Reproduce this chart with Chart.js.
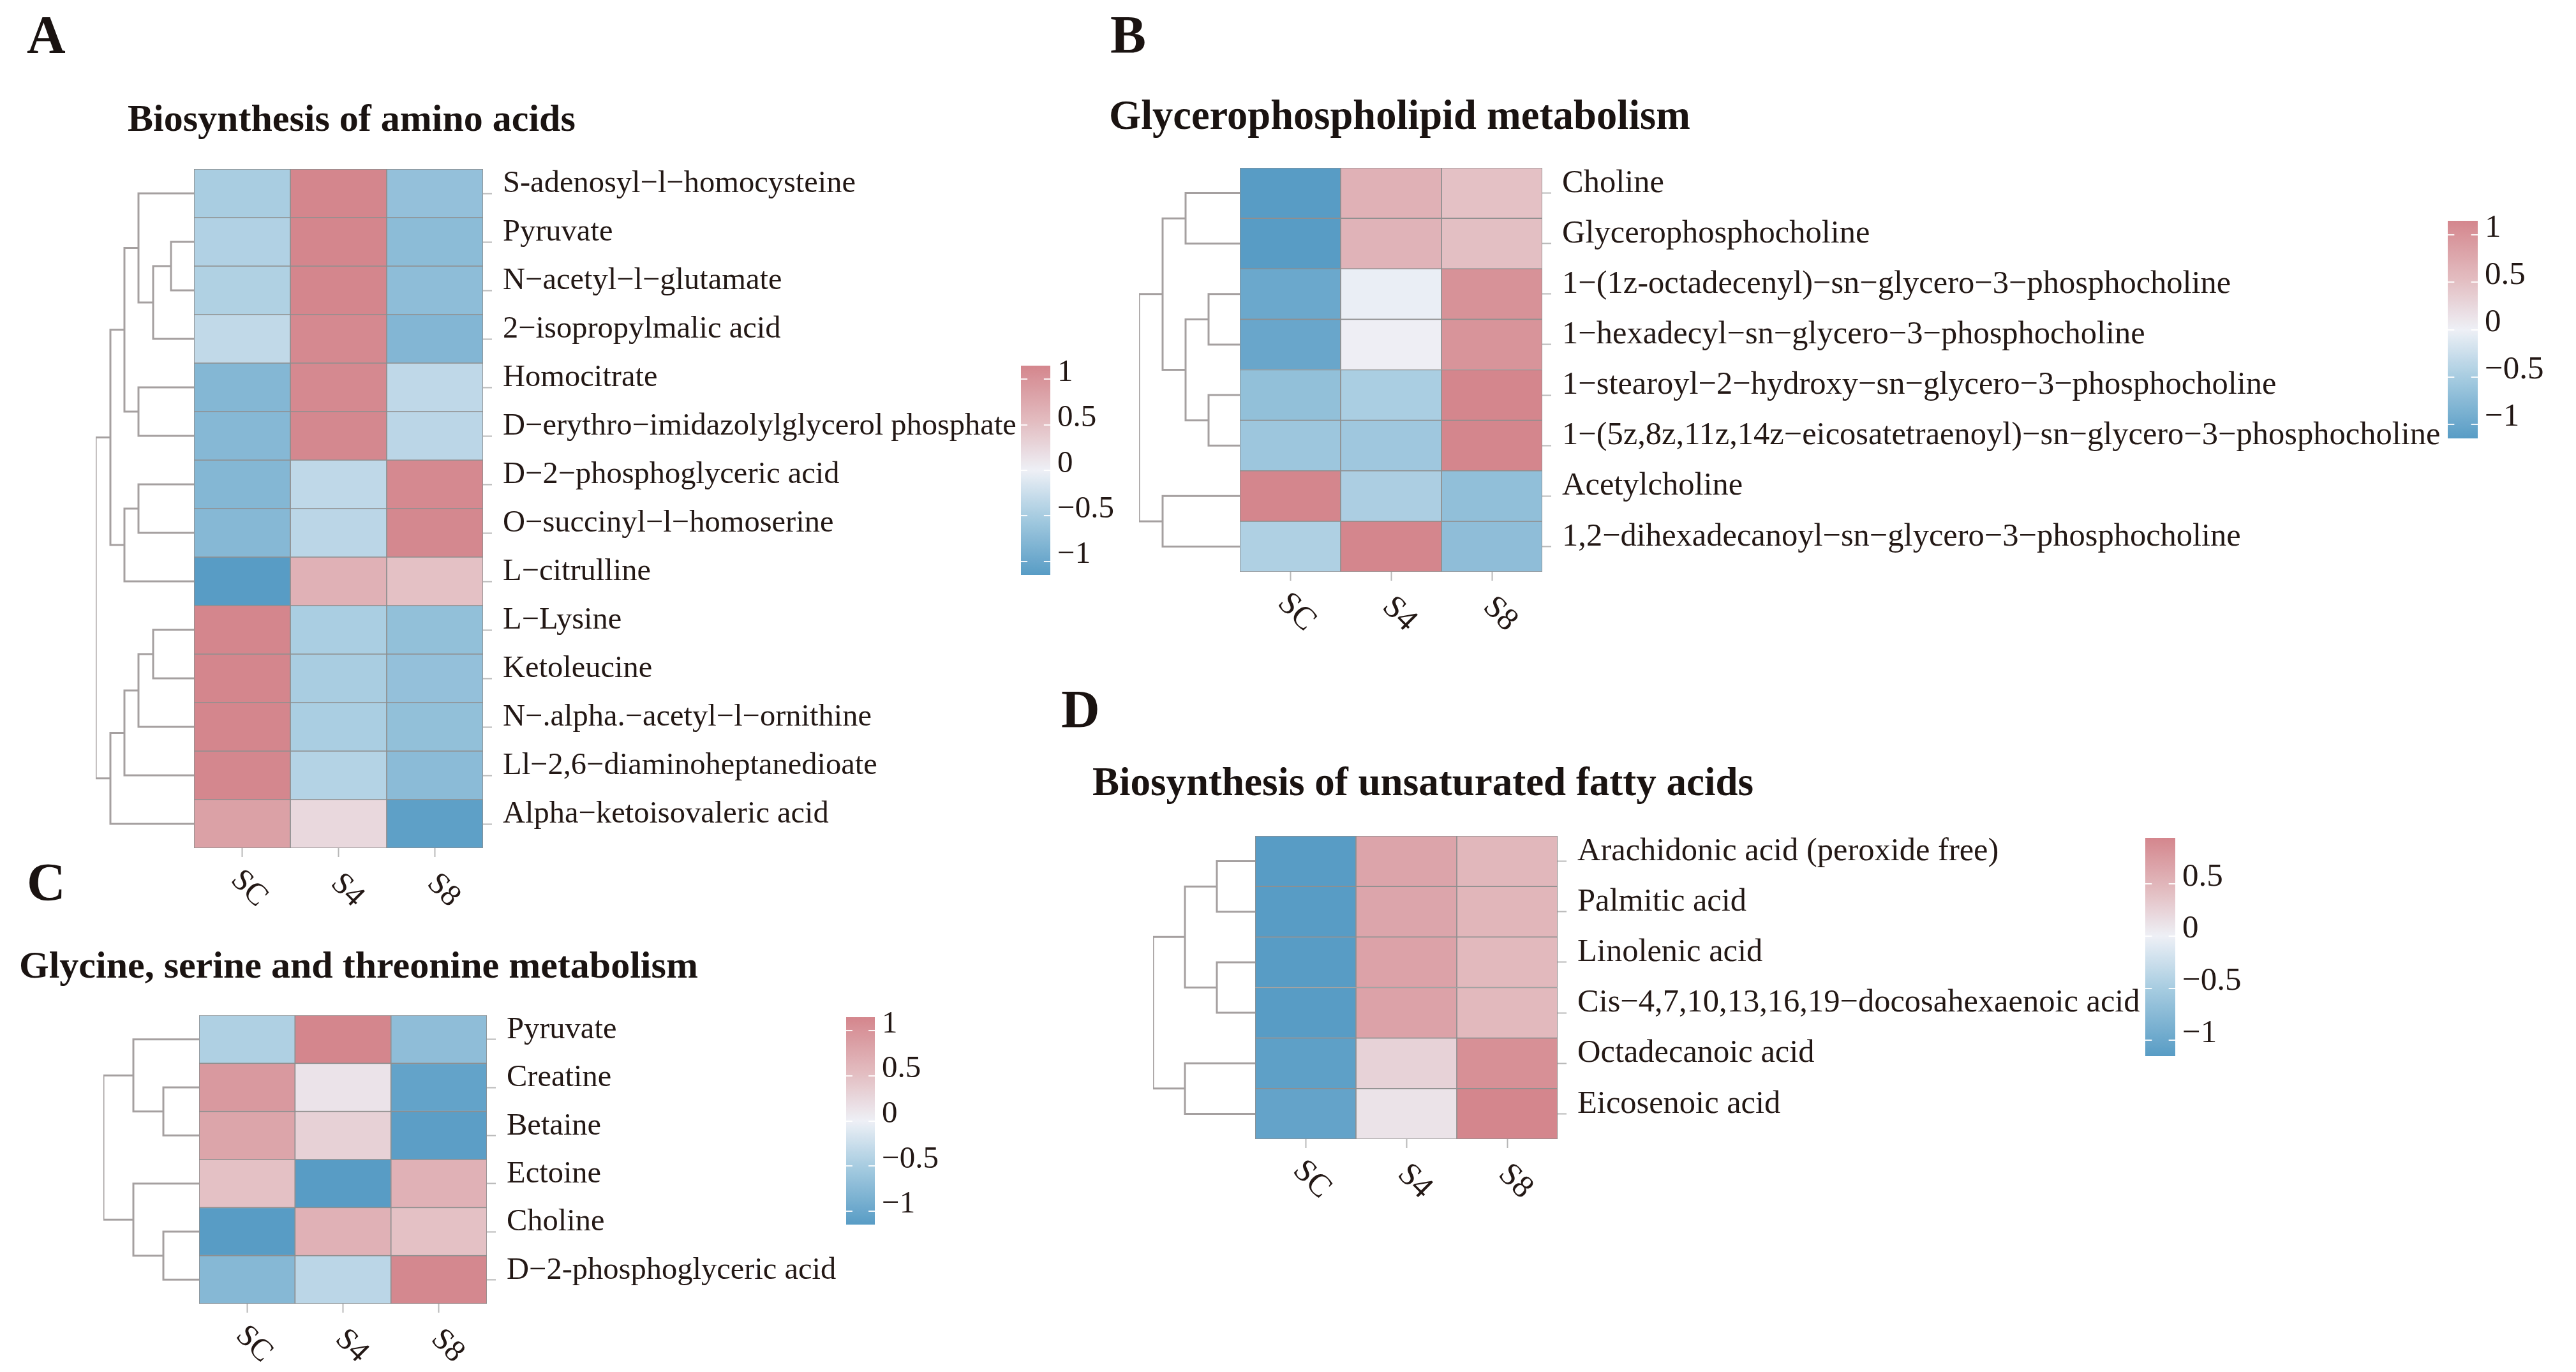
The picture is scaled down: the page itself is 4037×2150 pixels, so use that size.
<!DOCTYPE html>
<html><head><meta charset="utf-8">
<script src="https://cdn.jsdelivr.net/npm/chart.js@4.4.1/dist/chart.umd.min.js"></script>
<style>
html,body{margin:0;padding:0;background:#ffffff;}
body{position:relative;width:4037px;height:2150px;overflow:hidden;font-family:"Liberation Serif","Times New Roman",serif;color:#231815;}
canvas{position:absolute;}
.t{position:absolute;white-space:nowrap;font-weight:bold;color:#1a1311;}
</style></head><body>
<script>
// ---------------- DATA ----------------
const samples = ["SC", "S4", "S8"];
const cbTicks = [-1, -0.5, 0, 0.5, 1];

// Panel A: Biosynthesis of amino acids
const rowsA = ["S-adenosyl−l−homocysteine","Pyruvate","N−acetyl−l−glutamate","2−isopropylmalic acid","Homocitrate","D−erythro−imidazolylglycerol phosphate","D−2−phosphoglyceric acid","O−succinyl−l−homoserine","L−citrulline","L−Lysine","Ketoleucine","N−.alpha.−acetyl−l−ornithine","Ll−2,6−diaminoheptanedioate","Alpha−ketoisovaleric acid"];
const aSC = [-0.49,-0.43,-0.44,-0.32,-0.79,-0.77,-0.79,-0.77,-1.15, 1.15, 1.15, 1.15, 1.14, 0.85];
const aS4 = [ 1.15, 1.15, 1.15, 1.12, 1.12, 1.13,-0.33,-0.36, 0.66,-0.48,-0.49,-0.48,-0.41, 0.25];
const aS8 = [-0.66,-0.72,-0.71,-0.80,-0.33,-0.36, 1.12, 1.13, 0.49,-0.67,-0.66,-0.67,-0.73,-1.10];
// merges: negative = leaf -(row+1), positive = earlier merge (1-based), third = height
const treeA = [[-2,-3,36],[1,-4,64],[-1,2,87],[-5,-6,87],[3,4,109],[-7,-8,87],[6,-9,109],[5,7,131],[-10,-11,64],[9,-12,87],[10,-13,109],[11,-14,131],[8,12,154]];

// Panel B: Glycerophospholipid metabolism
const rowsB = ["Choline","Glycerophosphocholine","1−(1z-octadecenyl)−sn−glycero−3−phosphocholine","1−hexadecyl−sn−glycero−3−phosphocholine","1−stearoyl−2−hydroxy−sn−glycero−3−phosphocholine","1−(5z,8z,11z,14z−eicosatetraenoyl)−sn−glycero−3−phosphocholine","Acetylcholine","1,2−dihexadecanoyl−sn−glycero−3−phosphocholine"];
const bSC = [-1.15,-1.15,-0.99,-1.01,-0.67,-0.58, 1.15,-0.45];
const bS4 = [ 0.66, 0.64,-0.03, 0.02,-0.48,-0.57,-0.47, 1.15];
const bS8 = [ 0.49, 0.51, 1.02, 0.99, 1.15, 1.15,-0.68,-0.70];
const treeB = [[-1,-2,85],[-3,-4,49],[-5,-6,49],[2,3,85],[1,4,121],[-7,-8,121],[5,6,158]];

// Panel C: Glycine, serine and threonine metabolism
const rowsC = ["Pyruvate","Creatine","Betaine","Ectoine","Choline","D−2-phosphoglyceric acid"];
const cSC = [-0.45, 0.93, 0.80, 0.49,-1.15,-0.77];
const cS4 = [ 1.15, 0.13, 0.32,-1.15, 0.66,-0.36];
const cS8 = [-0.70,-1.06,-1.12, 0.66, 0.49, 1.13];
const treeC = [[-2,-3,56],[-1,1,103],[-5,-6,56],[-4,3,103],[2,4,150]];

// Panel D: Biosynthesis of unsaturated fatty acids
const rowsD = ["Arachidonic acid (peroxide free)","Palmitic acid","Linolenic acid","Cis−4,7,10,13,16,19−docosahexaenoic acid","Octadecanoic acid","Eicosenoic acid"];
const dSC = [-1.15,-1.15,-1.15,-1.15,-1.10,-1.05];
const dS4 = [ 0.66, 0.65, 0.68, 0.68, 0.25, 0.11];
const dS8 = [ 0.49, 0.50, 0.47, 0.47, 0.85, 0.94];
const treeD = [[-1,-2,60],[-3,-4,60],[1,2,110],[-5,-6,110],[3,4,160]];

// ---------------- STYLE / LAYOUT ----------------
const FONT = "'Liberation Serif','Times New Roman',serif";
const TXT = "#231815";
Chart.defaults.font.family = FONT;
Chart.defaults.color = TXT;

const NEG = [[0,[238,240,246]],[0.45,[165,203,224]],[1,[88,156,197]]];
const POS = [[0,[238,240,246]],[0.45,[227,190,194]],[1,[212,134,141]]];
function interp(stops, t) {
  t = Math.max(0, Math.min(1, t));
  for (let i = 1; i < stops.length; i++) {
    if (t <= stops[i][0]) {
      const [t0, c0] = stops[i-1], [t1, c1] = stops[i];
      const f = (t - t0) / (t1 - t0);
      return 'rgb(' + c0.map((c, k) => Math.round(c + (c1[k] - c) * f)).join(',') + ')';
    }
  }
  return 'rgb(' + stops[stops.length-1][1].join(',') + ')';
}
function colorFor(v, mn, mx) {
  return v < 0 ? interp(NEG, v / mn) : interp(POS, v / mx);
}
function fmt(v) { return v < 0 ? '−' + Math.abs(v) : String(v); }

const PANELS = [
  {letter:"A", title:"Biosynthesis of amino acids", rows:rowsA, vals:[aSC,aS4,aS8], tree:treeA,
   heat:{l:304,t:265,w:453,h:1064}, labelW:860, cb:{l:1600,t:573,w:46,h:328}, letterPos:[42,83], titlePos:[200,205],
   fs:48.5, ts:60, cs:49},
  {letter:"B", title:"Glycerophospholipid metabolism", rows:rowsB, vals:[bSC,bS4,bS8], tree:treeB,
   heat:{l:1943,t:263,w:474,h:633}, labelW:1450, cb:{l:3836,t:346,w:47,h:341}, letterPos:[1740,83], titlePos:[1738,203],
   fs:50.5, ts:64.5, cs:51},
  {letter:"C", title:"Glycine, serine and threonine metabolism", rows:rowsC, vals:[cSC,cS4,cS8], tree:treeC,
   heat:{l:312,t:1591,w:451,h:452}, labelW:560, cb:{l:1326,t:1594,w:45,h:325}, letterPos:[42,1411], titlePos:[30,1532],
   fs:48.5, ts:60, cs:49},
  {letter:"D", title:"Biosynthesis of unsaturated fatty acids", rows:rowsD, vals:[dSC,dS4,dS8], tree:treeD,
   heat:{l:1967,t:1310,w:474,h:475}, labelW:940, cb:{l:3362,t:1313,w:47,h:342}, letterPos:[1663,1140], titlePos:[1712,1247],
   fs:50.5, ts:63, cs:51}
];

function mkCanvas(l, t, w, h) {
  const c = document.createElement('canvas');
  c.width = Math.round(w); c.height = Math.round(h);
  c.style.left = Math.round(l) + 'px'; c.style.top = Math.round(t) + 'px';
  c.style.width = Math.round(w) + 'px'; c.style.height = Math.round(h) + 'px';
  document.body.appendChild(c);
  return c;
}
function addText(str, x, baseline, size) {
  const d = document.createElement('div');
  d.className = 't';
  d.textContent = str;
  d.style.fontSize = size + 'px';
  d.style.lineHeight = size + 'px';
  d.style.left = x + 'px';
  d.style.top = (baseline - 0.8375 * size) + 'px';
  document.body.appendChild(d);
}
function dendroSegments(tree) {
  const pos = [], hgt = [];
  const nodeY = id => id < 0 ? (-id - 1) : pos[id - 1];
  const nodeH = id => id < 0 ? 0 : hgt[id - 1];
  return tree.map((m, k) => {
    const [a, b, h] = m;
    const ya = nodeY(a), yb = nodeY(b);
    pos[k] = (ya + yb) / 2; hgt[k] = h;
    return [{x: nodeH(a), y: ya}, {x: h, y: ya}, {x: h, y: yb}, {x: nodeH(b), y: yb}];
  });
}
const noPlug = {legend:{display:false}, tooltip:{enabled:false}, title:{display:false}};

function buildPanel(P) {
  const n = P.rows.length;
  const all = P.vals.flat();
  const mn = Math.min(...all), mx = Math.max(...all);
  const H = P.heat;
  const colW = H.w / samples.length;

  addText(P.letter, P.letterPos[0], P.letterPos[1], 84);
  addText(P.title, P.titlePos[0], P.titlePos[1], P.ts);

  // ---- dendrogram ----
  const maxH = Math.max(...P.tree.map(m => m[2]));
  const segs = dendroSegments(P.tree);
  const dc = mkCanvas(H.l - maxH - 6, H.t, maxH + 6, H.h);
  new Chart(dc, {
    type: 'scatter',
    data: {datasets: segs.map(pts => ({data: pts, showLine: true, pointRadius: 0, pointHitRadius: 0,
      borderColor: '#a5a0a0', borderWidth: 3, fill: false, tension: 0, borderJoinStyle: 'miter'}))},
    options: {responsive: false, animation: false, devicePixelRatio: 1,
      layout: {padding: {left: 6, right: 0, top: 0, bottom: 0}},
      plugins: noPlug,
      scales: {
        x: {type: 'linear', min: 0, max: maxH, reverse: true, display: false},
        y: {type: 'linear', min: -0.5, max: n - 0.5, reverse: true, display: false}
      }}
  });

  // ---- heatmap ----
  const padL = 4, padT = 40, xH = 14, x2H = 130;
  const shift = 31.5 / colW;
  const hc = mkCanvas(H.l - padL, H.t - padT, padL + H.w + P.labelW, padT + H.h + xH + x2H);
  new Chart(hc, {
    type: 'bar',
    data: {
      labels: P.rows,
      datasets: samples.map((s, j) => ({
        label: s,
        data: P.rows.map(() => 1),
        backgroundColor: P.vals[j].map(v => colorFor(v, mn, mx)),
        borderColor: '#8f8f8f', borderWidth: 1.2, borderSkipped: false,
        barPercentage: 1, categoryPercentage: 1
      }))
    },
    options: {
      indexAxis: 'y', responsive: false, animation: false, devicePixelRatio: 1,
      layout: {padding: {left: padL, top: padT, right: 0, bottom: 0}},
      plugins: noPlug,
      scales: {
        y: {type: 'category', position: 'right', stacked: true, offset: true,
          grid: {display: true, offset: false, drawOnChartArea: false, drawTicks: true, tickLength: 14, tickColor: '#b8b8b8', tickWidth: 2},
          border: {display: false},
          ticks: {padding: 17, color: TXT, autoSkip: false, font: {size: P.fs, lineHeight: 0.6},
            callback: (v, i) => [P.rows[i], '']},
          afterFit: s => { s.width = P.labelW; s.paddingTop = 0; s.paddingBottom = 0; }
        },
        x: {type: 'linear', position: 'bottom', stacked: true, min: 0, max: samples.length, weight: 0,
          afterBuildTicks: s => { s.ticks = samples.map((_, j) => ({value: j + 0.5})); },
          grid: {display: true, drawOnChartArea: false, drawTicks: true, tickLength: 14, tickColor: '#b8b8b8', tickWidth: 2},
          border: {display: false},
          ticks: {display: false},
          afterFit: s => { s.height = xH; s.paddingLeft = 0; s.paddingRight = 0; }
        },
        x2: {type: 'linear', axis: 'x', position: 'bottom', min: -shift, max: samples.length - shift, weight: 1,
          afterBuildTicks: s => { s.ticks = samples.map((_, j) => ({value: j + 0.5})); },
          grid: {display: false, drawTicks: false},
          border: {display: false},
          ticks: {minRotation: -45, maxRotation: -45, padding: 50, autoSkip: false, color: TXT, font: {size: P.fs},
            callback: (v, i) => samples[i]},
          afterFit: s => { s.height = x2H; s.paddingLeft = 0; s.paddingRight = 0; }
        }
      }
    }
  });

  // ---- colour bar ----
  const C = P.cb;
  const cc = mkCanvas(C.l - 2, C.t - 40, 2 + C.w + 230, C.h + 80);
  new Chart(cc, {
    type: 'bar',
    data: {labels: [''], datasets: [{
      data: [[mn, mx]],
      backgroundColor: ctx => {
        const ch = ctx.chart; if (!ch.chartArea) return '#dddddd';
        const ys = ch.scales.y;
        const g = ch.ctx.createLinearGradient(0, ys.getPixelForValue(mn), 0, ys.getPixelForValue(mx));
        for (let k = 0; k <= 60; k++) { const v = mn + (mx - mn) * k / 60; g.addColorStop(k / 60, colorFor(v, mn, mx)); }
        return g;
      },
      borderWidth: 0, barPercentage: 1, categoryPercentage: 1
    }]},
    options: {
      responsive: false, animation: false, devicePixelRatio: 1,
      layout: {padding: {left: 2, top: 40, bottom: 40, right: 0}},
      plugins: noPlug,
      scales: {
        x: {type: 'category', display: false, offset: true},
        y: {type: 'linear', position: 'right', min: mn, max: mx,
          afterBuildTicks: s => { s.ticks = cbTicks.filter(v => v >= mn && v <= mx).map(v => ({value: v})); },
          grid: {display: true, drawOnChartArea: true, drawTicks: false, color: 'rgba(255,255,255,0.9)', lineWidth: 2, z: 1},
          border: {display: false, dash: [C.w * 0.22, C.w * 0.56]},
          ticks: {padding: 11, color: TXT, font: {size: P.cs, lineHeight: 0.42}, callback: v => [fmt(v), '']},
          afterFit: s => { s.width = 230; s.paddingTop = 0; s.paddingBottom = 0; }
        }
      }
    }
  });
}

PANELS.forEach(buildPanel);
</script>
</body></html>
